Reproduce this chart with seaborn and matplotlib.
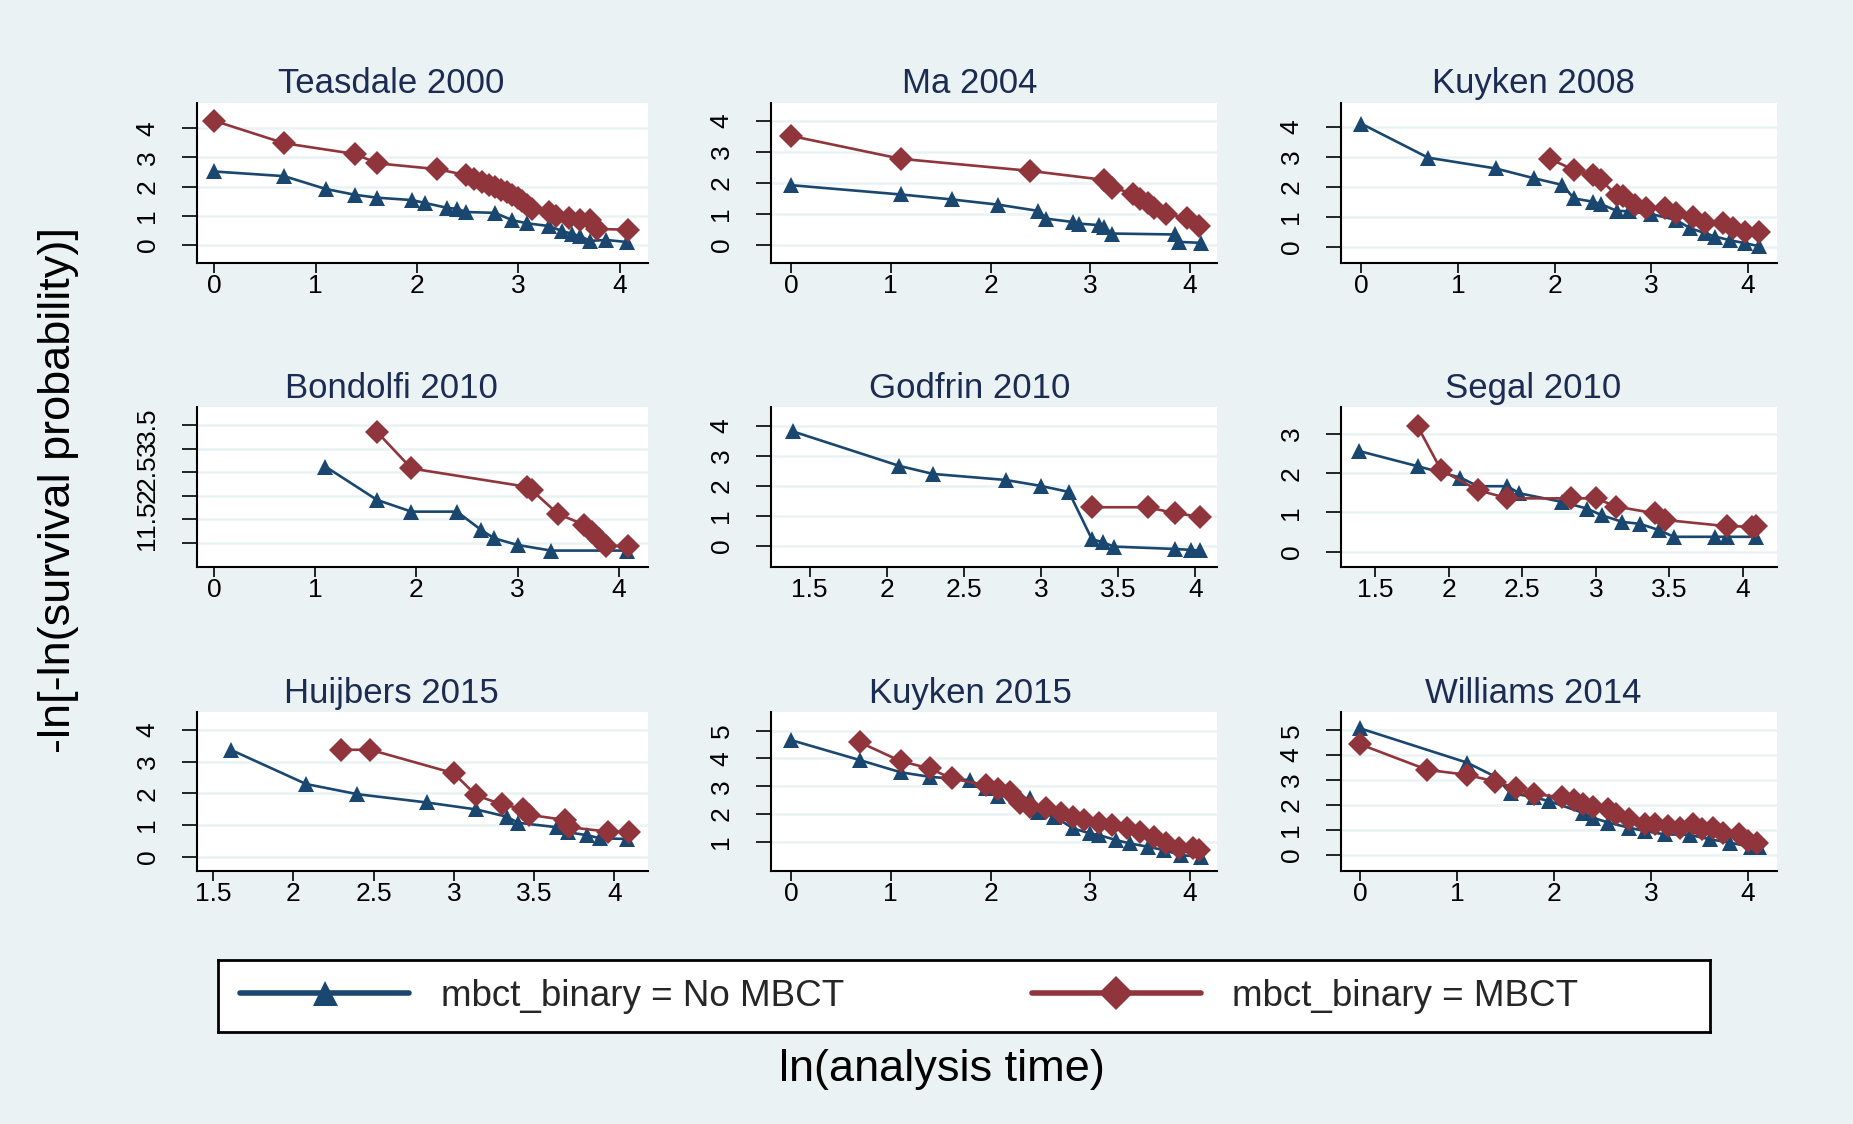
import numpy as np
import pandas as pd
import matplotlib.pyplot as plt
from matplotlib.lines import Line2D
import seaborn as sns

# ---- data: x = ln(analysis time), y = -ln[-ln(S)] ----
teasdale_x_no = [0, 0.69, 1.10, 1.39, 1.61, 1.95, 2.08, 2.30, 2.40, 2.48, 2.77, 2.94, 3.09, 3.30, 3.43, 3.53, 3.61, 3.71, 3.87, 4.07]
teasdale_y_no = [2.52, 2.36, 1.92, 1.72, 1.62, 1.54, 1.44, 1.27, 1.24, 1.13, 1.10, 0.85, 0.74, 0.65, 0.48, 0.38, 0.30, 0.14, 0.17, 0.10]
teasdale_x_mbct = [0, 0.69, 1.39, 1.61, 2.20, 2.48, 2.56, 2.64, 2.71, 2.77, 2.83, 2.89, 2.94, 3.00, 3.04, 3.09, 3.14, 3.30, 3.37, 3.50, 3.61, 3.71, 3.78, 4.08]
teasdale_y_mbct = [4.26, 3.49, 3.12, 2.80, 2.60, 2.40, 2.27, 2.17, 2.07, 1.98, 1.90, 1.80, 1.72, 1.60, 1.50, 1.38, 1.25, 1.12, 1.00, 0.93, 0.86, 0.84, 0.55, 0.52]

ma_x_no = [0, 1.10, 1.61, 2.08, 2.48, 2.56, 2.83, 2.89, 3.09, 3.14, 3.22, 3.85, 3.89, 4.11]
ma_y_no = [1.93, 1.63, 1.47, 1.30, 1.10, 0.85, 0.74, 0.69, 0.64, 0.58, 0.37, 0.34, 0.10, 0.07]
ma_x_mbct = [0, 1.10, 2.40, 3.14, 3.22, 3.43, 3.50, 3.58, 3.64, 3.76, 3.97, 4.09]
ma_y_mbct = [3.52, 2.78, 2.39, 2.10, 1.85, 1.66, 1.50, 1.35, 1.20, 1.00, 0.87, 0.62]

kuyken08_x_no = [0, 0.69, 1.39, 1.79, 2.08, 2.20, 2.40, 2.48, 2.64, 2.77, 3.00, 3.26, 3.40, 3.56, 3.66, 3.81, 3.97, 4.11]
kuyken08_y_no = [4.10, 2.97, 2.61, 2.28, 2.06, 1.61, 1.50, 1.42, 1.20, 1.18, 1.09, 0.89, 0.62, 0.45, 0.34, 0.22, 0.12, 0.02]
kuyken08_x_mbct = [1.95, 2.20, 2.40, 2.48, 2.64, 2.71, 2.83, 2.94, 3.14, 3.26, 3.43, 3.56, 3.74, 3.85, 3.97, 4.11]
kuyken08_y_mbct = [2.93, 2.56, 2.39, 2.22, 1.72, 1.69, 1.40, 1.28, 1.28, 1.11, 1.00, 0.80, 0.78, 0.62, 0.50, 0.50]

bondolfi_x_no = [1.10, 1.61, 1.95, 2.40, 2.64, 2.77, 3.00, 3.33, 4.08]
bondolfi_y_no = [2.62, 1.91, 1.66, 1.66, 1.27, 1.09, 0.95, 0.83, 0.83]
bondolfi_x_mbct = [1.61, 1.95, 3.09, 3.14, 3.40, 3.66, 3.74, 3.81, 3.87, 4.09]
bondolfi_y_mbct = [3.36, 2.58, 2.19, 2.12, 1.61, 1.38, 1.22, 1.08, 0.93, 0.93]

godfrin_x_no = [1.39, 2.08, 2.30, 2.77, 3.00, 3.18, 3.33, 3.40, 3.47, 3.87, 3.97, 4.03]
godfrin_y_no = [3.82, 2.67, 2.40, 2.20, 2.00, 1.80, 0.22, 0.13, -0.02, -0.10, -0.13, -0.15]
godfrin_x_mbct = [3.33, 3.69, 3.87, 4.03]
godfrin_y_mbct = [1.29, 1.29, 1.09, 0.98]

segal_x_no = [1.39, 1.79, 2.08, 2.20, 2.40, 2.48, 2.77, 2.94, 3.04, 3.18, 3.30, 3.43, 3.53, 3.81, 3.89, 4.09]
segal_y_no = [2.57, 2.18, 1.89, 1.67, 1.67, 1.49, 1.27, 1.10, 0.93, 0.76, 0.71, 0.55, 0.38, 0.38, 0.38, 0.38]
segal_x_mbct = [1.79, 1.95, 2.20, 2.40, 2.83, 3.00, 3.14, 3.40, 3.47, 3.89, 4.06, 4.09]
segal_y_mbct = [3.20, 2.08, 1.57, 1.36, 1.36, 1.36, 1.15, 0.98, 0.81, 0.65, 0.64, 0.66]

huijbers_x_no = [1.61, 2.08, 2.40, 2.83, 3.14, 3.33, 3.40, 3.64, 3.71, 3.83, 3.91, 4.08]
huijbers_y_no = [3.37, 2.29, 1.97, 1.71, 1.49, 1.26, 1.07, 0.93, 0.77, 0.68, 0.58, 0.56]
huijbers_x_mbct = [2.30, 2.48, 3.00, 3.14, 3.30, 3.43, 3.47, 3.69, 3.72, 3.96, 4.09]
huijbers_y_mbct = [3.37, 3.37, 2.63, 1.93, 1.65, 1.51, 1.32, 1.16, 0.93, 0.79, 0.79]

kuyken15_x_no = [0, 0.69, 1.10, 1.39, 1.79, 1.95, 2.08, 2.40, 2.48, 2.64, 2.83, 3.00, 3.09, 3.26, 3.40, 3.58, 3.74, 3.91, 4.11]
kuyken15_y_no = [4.66, 3.94, 3.50, 3.34, 3.22, 2.92, 2.66, 2.56, 2.08, 1.90, 1.48, 1.30, 1.24, 1.06, 0.94, 0.82, 0.70, 0.52, 0.46]
kuyken15_x_mbct = [0.69, 1.10, 1.39, 1.61, 1.95, 2.08, 2.20, 2.30, 2.40, 2.56, 2.71, 2.83, 2.94, 3.09, 3.22, 3.37, 3.50, 3.64, 3.76, 3.89, 4.03, 4.09]
kuyken15_y_mbct = [4.58, 3.90, 3.64, 3.28, 3.04, 2.90, 2.80, 2.40, 2.26, 2.20, 2.02, 1.90, 1.78, 1.66, 1.60, 1.48, 1.36, 1.18, 0.94, 0.78, 0.76, 0.70]

williams_x_no = [0, 1.10, 1.39, 1.55, 1.79, 1.95, 2.30, 2.40, 2.56, 2.77, 2.94, 3.14, 3.40, 3.61, 3.81, 4.03, 4.11]
williams_y_no = [5.07, 3.70, 3.14, 2.48, 2.31, 2.15, 1.68, 1.49, 1.29, 1.09, 0.95, 0.82, 0.80, 0.62, 0.49, 0.32, 0.32]
williams_x_mbct = [0, 0.69, 1.10, 1.39, 1.61, 1.79, 2.08, 2.20, 2.30, 2.40, 2.56, 2.64, 2.77, 2.94, 3.04, 3.18, 3.30, 3.43, 3.53, 3.64, 3.74, 3.91, 4.00, 4.09]
williams_y_mbct = [4.43, 3.41, 3.21, 2.94, 2.68, 2.44, 2.31, 2.21, 2.02, 1.91, 1.82, 1.62, 1.42, 1.25, 1.22, 1.15, 1.09, 1.22, 1.02, 1.09, 0.89, 0.82, 0.56, 0.49]

study_names = ['Teasdale 2000', 'Ma 2004', 'Kuyken 2008',
               'Bondolfi 2010', 'Godfrin 2010', 'Segal 2010',
               'Huijbers 2015', 'Kuyken 2015', 'Williams 2014']
study_series = [
    (teasdale_x_no, teasdale_y_no, teasdale_x_mbct, teasdale_y_mbct),
    (ma_x_no, ma_y_no, ma_x_mbct, ma_y_mbct),
    (kuyken08_x_no, kuyken08_y_no, kuyken08_x_mbct, kuyken08_y_mbct),
    (bondolfi_x_no, bondolfi_y_no, bondolfi_x_mbct, bondolfi_y_mbct),
    (godfrin_x_no, godfrin_y_no, godfrin_x_mbct, godfrin_y_mbct),
    (segal_x_no, segal_y_no, segal_x_mbct, segal_y_mbct),
    (huijbers_x_no, huijbers_y_no, huijbers_x_mbct, huijbers_y_mbct),
    (kuyken15_x_no, kuyken15_y_no, kuyken15_x_mbct, kuyken15_y_mbct),
    (williams_x_no, williams_y_no, williams_x_mbct, williams_y_mbct),
]
groups = ['No MBCT', 'MBCT']

# ---- axis ticks and ranges per panel ----
x_ticks = [[0, 1, 2, 3, 4]] * 4 + [[1.5, 2, 2.5, 3, 3.5, 4]] * 3 + [[0, 1, 2, 3, 4]] * 2
y_ticks = [[0, 1, 2, 3, 4]] * 3 + [[1, 1.5, 2, 2.5, 3, 3.5], [0, 1, 2, 3, 4], [0, 1, 2, 3],
                                   [0, 1, 2, 3, 4], [1, 2, 3, 4, 5], [0, 1, 2, 3, 4, 5]]
x_lims = [(-0.17, 4.28), (-0.20, 4.27), (-0.21, 4.30),
          (-0.17, 4.29), (1.25, 4.14), (1.27, 4.23),
          (1.40, 4.21), (-0.20, 4.27), (-0.20, 4.30)]
y_lims = [(-0.62, 4.87), (-0.58, 4.58), (-0.54, 4.79),
          (0.48, 3.89), (-0.70, 4.63), (-0.39, 3.69),
          (-0.45, 4.56), (-0.05, 5.67), (-0.65, 5.73)]

# ---- styling ----
BG = '#EAF2F3'
NAVY = '#1A476F'
MAROON = '#90353B'
TITLE = '#1C2B52'
W, H = 1853, 1124
col_left = [197, 771, 1341]
col_right = [648, 1217, 1777]
row_top = [103, 407, 712]
row_bottom = [263, 567, 871]
title_x = [391, 970, 1533]
title_y = [93, 398, 703]

sns.set_style('white')
plt.rcParams['font.family'] = ['Liberation Sans', 'DejaVu Sans']


def study_frame(x_no, y_no, x_mbct, y_mbct):
    return pd.DataFrame({
        'lnt': list(x_no) + list(x_mbct),
        'val': list(y_no) + list(y_mbct),
        'group': [groups[0]] * len(x_no) + [groups[1]] * len(x_mbct),
    })


def draw_panel(ax, df, i):
    sns.lineplot(data=df, x='lnt', y='val', hue='group', style='group',
                 hue_order=groups, style_order=groups,
                 palette={groups[0]: NAVY, groups[1]: MAROON},
                 markers={groups[0]: '^', groups[1]: 'D'}, dashes=False,
                 estimator=None, sort=False, legend=False, ax=ax,
                 linewidth=1.9, markersize=12, markeredgewidth=0)
    ax.set_facecolor('white')
    ax.set_xlim(*x_lims[i])
    ax.set_ylim(*y_lims[i])
    ax.set_xticks(x_ticks[i])
    ax.set_yticks(y_ticks[i])
    ax.set_xticklabels([f'{t:g}' for t in x_ticks[i]])
    ax.set_yticklabels([f'{t:g}' for t in y_ticks[i]], rotation=90, va='center')
    ax.set_xlabel('')
    ax.set_ylabel('')
    ax.yaxis.grid(True, color=BG, lw=1.8)
    ax.xaxis.grid(False)
    ax.set_axisbelow(True)
    for side in ['top', 'right']:
        ax.spines[side].set_visible(False)
    for side in ['left', 'bottom']:
        ax.spines[side].set_color('black')
        ax.spines[side].set_linewidth(1.5)
    ax.tick_params(axis='y', direction='out', length=11, width=1.2, pad=16,
                   labelsize=19, left=True, colors='black')
    ax.tick_params(axis='x', direction='out', length=7, width=1.2, pad=1,
                   labelsize=19, bottom=True, colors='black')


fig = plt.figure(figsize=(W / 100, H / 100), dpi=100, facecolor=BG)

for i, (name, series) in enumerate(zip(study_names, study_series)):
    r, c = divmod(i, 3)
    ax = fig.add_axes([col_left[c] / W, 1 - row_bottom[r] / H,
                       (col_right[c] - col_left[c]) / W,
                       (row_bottom[r] - row_top[r]) / H])
    draw_panel(ax, study_frame(*series), i)
    fig.text(title_x[c] / W, 1 - title_y[r] / H, name, ha='center', va='baseline',
             fontsize=25, color=TITLE)

# legend box
lax = fig.add_axes([218 / W, 1 - 1032 / H, (1710 - 218) / W, (1032 - 960) / H])
lax.set_facecolor('white')
lax.set_xticks([])
lax.set_yticks([])
for s in lax.spines.values():
    s.set_visible(True)
    s.set_color('black')
    s.set_linewidth(2)
handles = [Line2D([], [], color=NAVY, lw=4, marker='^', ms=18, mew=0),
           Line2D([], [], color=MAROON, lw=4, marker='D', ms=17, mew=0)]
lax.legend(handles, ['mbct_binary = ' + g for g in groups], loc='center left',
           bbox_to_anchor=(22 / 1492, 0.5), ncol=2, frameon=False, fontsize=26.5,
           handlelength=4.6, handletextpad=0.85, columnspacing=5.1,
           borderpad=0, borderaxespad=0)

fig.text(59 / W, 1 - 490 / H, '-ln[-ln(survival probability)]', rotation=90,
         ha='center', va='center', fontsize=32.5, color='black')
fig.text(942 / W, 1 - 1070 / H, 'ln(analysis time)', ha='center', va='center',
         fontsize=32.5, color='black')

fig.savefig('out.png', dpi=100, facecolor=BG)
